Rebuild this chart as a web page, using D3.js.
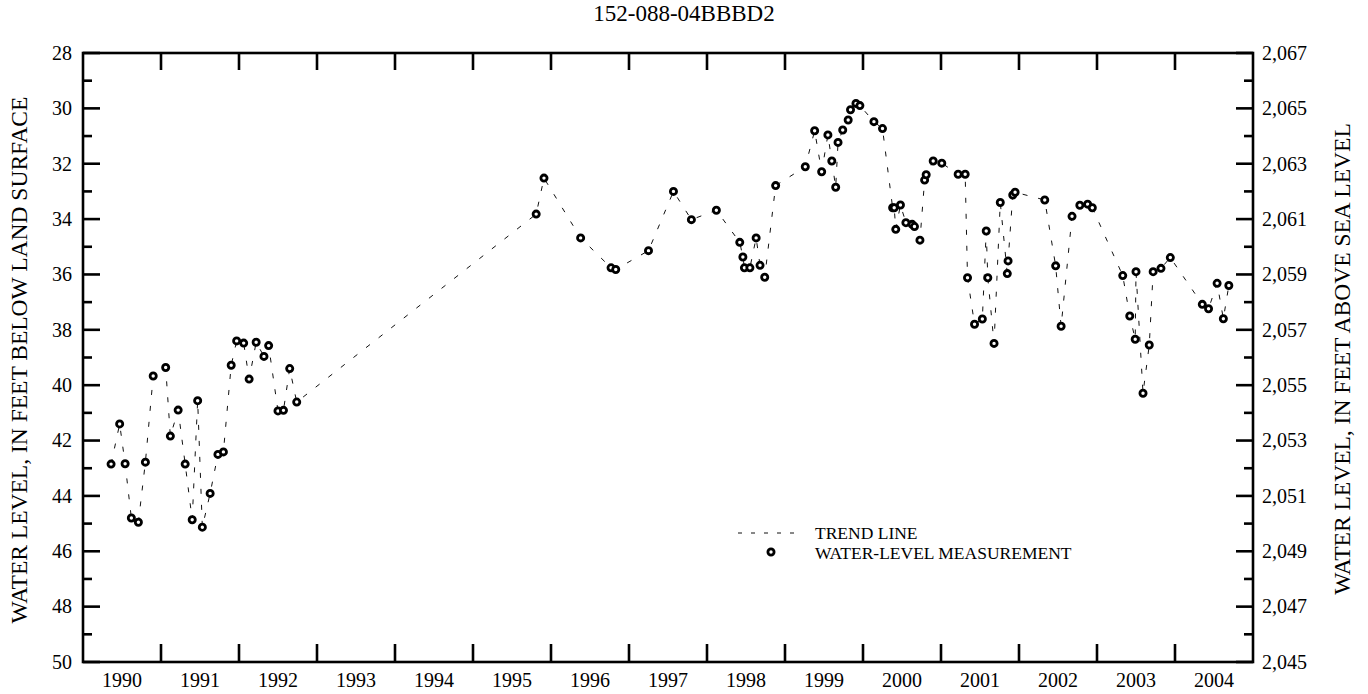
<!DOCTYPE html>
<html><head><meta charset="utf-8">
<script src="https://cdn.jsdelivr.net/npm/d3@7"></script>
<style>
html,body{margin:0;padding:0;background:#fff;}
svg text{font-family:"Liberation Serif","Times New Roman",serif;fill:#000;}
</style>
</head><body>
<svg id="chart" width="1368" height="694"></svg>
<script>
const title = "152-088-04BBBD2";
const leftLabel = "WATER LEVEL, IN FEET BELOW LAND SURFACE";
const rightLabel = "WATER LEVEL, IN FEET ABOVE SEA LEVEL";
const yearLabels = [1990,1991,1992,1993,1994,1995,1996,1997,1998,1999,2000,2001,2002,2003,2004];
const depthTicks = [28,30,32,34,36,38,40,42,44,46,48,50];
const landSurface = 2095;
const legendItems = ["TREND LINE","WATER-LEVEL MEASUREMENT"];

// decimal-year dates of measurements
const measDates = [
 1990.36,1990.47,1990.54,1990.62,1990.71,1990.80,1990.90,1991.06,1991.12,1991.22,
 1991.31,1991.40,1991.47,1991.53,1991.63,1991.73,1991.80,1991.90,1991.97,1992.06,
 1992.13,1992.22,1992.32,1992.38,1992.50,1992.57,1992.65,1992.74,
 1995.81,1995.91,1996.38,1996.77,1996.83,1997.25,1997.57,1997.80,1998.12,
 1998.42,1998.46,1998.48,1998.55,1998.63,1998.68,1998.74,1998.88,
 1999.26,1999.38,1999.47,1999.55,1999.60,1999.65,1999.68,1999.74,1999.81,1999.84,1999.91,1999.96,
 2000.14,2000.25,2000.38,2000.40,2000.42,2000.48,2000.55,2000.63,2000.66,2000.73,2000.79,2000.81,2000.90,
 2001.01,2001.22,2001.31,2001.34,2001.43,2001.53,2001.58,2001.60,2001.68,2001.76,2001.85,2001.86,2001.92,2001.95,
 2002.33,2002.47,2002.54,2002.68,2002.78,2002.88,2002.94,
 2003.33,2003.42,2003.49,2003.50,2003.59,2003.67,2003.72,2003.82,2003.94,
 2004.35,2004.43,2004.54,2004.62,2004.69
];
// water level, feet below land surface
const measDepths = [
 42.85,41.40,42.84,44.80,44.95,42.78,39.67,39.36,41.84,40.90,
 42.85,44.86,40.56,45.13,43.91,42.50,42.41,39.28,38.40,38.48,
 39.78,38.45,38.96,38.57,40.93,40.91,39.40,40.61,
 33.82,32.52,34.68,35.76,35.82,35.14,33.00,34.02,33.68,
 34.84,35.37,35.76,35.76,34.68,35.67,36.10,32.79,
 32.11,30.81,32.29,30.96,31.90,32.85,31.23,30.78,30.42,30.05,29.82,29.90,
 30.48,30.73,33.59,33.59,34.37,33.49,34.13,34.19,34.27,34.76,32.59,32.40,31.90,
 31.98,32.38,32.38,36.12,37.80,37.61,34.43,36.12,38.49,33.40,35.97,35.51,33.13,33.03,
 33.31,35.69,37.87,33.90,33.50,33.46,33.59,
 36.04,37.50,38.34,35.90,40.29,38.55,35.90,35.78,35.39,
 37.08,37.24,36.32,37.60,36.40
];

const data = measDates.map((d,i)=>({t:d, v:measDepths[i]}));

const L=83, R=1253, T=53, B=662;
const svg = d3.select("#chart");
const x = d3.scaleLinear().domain([1990,2005]).range([L,R]);
const y = d3.scaleLinear().domain([28,50]).range([T,B]);
const y2 = d3.scaleLinear().domain([landSurface-28, landSurface-50]).range([T,B]);

const axisW = 2.6;
const minorY = d3.range(29,50,2);
const gL = svg.append("g");
gL.selectAll("line.maj").data(depthTicks).join("line")
  .attr("x1",L).attr("x2",L+17).attr("y1",d=>y(d)).attr("y2",d=>y(d))
  .attr("stroke","#000").attr("stroke-width",axisW);
gL.selectAll("line.min").data(minorY).join("line")
  .attr("x1",L).attr("x2",L+9).attr("y1",d=>y(d)).attr("y2",d=>y(d))
  .attr("stroke","#000").attr("stroke-width",axisW);
gL.selectAll("text").data(depthTicks).join("text")
  .attr("x",L-11).attr("y",d=>y(d)).attr("dy","0.34em")
  .attr("text-anchor","end").attr("font-size",20).text(d=>d);

const rightTicks = d3.range(landSurface-28, landSurface-51, -2);
const rightMinor = d3.range(landSurface-29, landSurface-50, -2);
const gR = svg.append("g");
gR.selectAll("line.maj").data(rightTicks).join("line")
  .attr("x1",R).attr("x2",R-17).attr("y1",d=>y2(d)).attr("y2",d=>y2(d))
  .attr("stroke","#000").attr("stroke-width",axisW);
gR.selectAll("line.min").data(rightMinor).join("line")
  .attr("x1",R).attr("x2",R-9).attr("y1",d=>y2(d)).attr("y2",d=>y2(d))
  .attr("stroke","#000").attr("stroke-width",axisW);
gR.selectAll("text").data(rightTicks).join("text")
  .attr("x",R+9).attr("y",d=>y2(d)).attr("dy","0.34em")
  .attr("text-anchor","start").attr("font-size",20).text(d=>d3.format(",")(d));

const yearBounds = d3.range(1991,2005);
const gX = svg.append("g");
gX.selectAll("line.b").data(yearBounds).join("line")
  .attr("x1",d=>x(d)).attr("x2",d=>x(d)).attr("y1",B).attr("y2",B-18)
  .attr("stroke","#000").attr("stroke-width",axisW);
gX.selectAll("line.t").data(yearBounds).join("line")
  .attr("x1",d=>x(d)).attr("x2",d=>x(d)).attr("y1",T).attr("y2",T+17)
  .attr("stroke","#000").attr("stroke-width",axisW);
gX.selectAll("text").data(yearLabels).join("text")
  .attr("x",d=>x(d+0.5)).attr("y",B+25)
  .attr("text-anchor","middle").attr("font-size",20).text(d=>d);

svg.append("rect").attr("x",L).attr("y",T).attr("width",R-L).attr("height",B-T)
  .attr("fill","none").attr("stroke","#000").attr("stroke-width",axisW);

const line = d3.line().x(d=>x(d.t)).y(d=>y(d.v));
svg.append("path").datum(data).attr("d",line)
  .attr("fill","none").attr("stroke","#111").attr("stroke-width",1)
  .attr("stroke-dasharray","5,11");

svg.append("g").selectAll("circle").data(data).join("circle")
  .attr("cx",d=>x(d.t)).attr("cy",d=>y(d.v)).attr("r",3.1)
  .attr("fill","#fff").attr("stroke","#000").attr("stroke-width",2.8);

svg.append("text").attr("x",684).attr("y",20.6).attr("text-anchor","middle")
  .attr("font-size",23).text(title);

svg.append("text").attr("transform",`translate(27,360) rotate(-90)`)
  .attr("text-anchor","middle").attr("font-size",23.5).text(leftLabel);
svg.append("text").attr("transform",`translate(1350,359) rotate(-90)`)
  .attr("text-anchor","middle").attr("font-size",23.5).text(rightLabel);

const lg = svg.append("g");
lg.append("line").attr("x1",738).attr("x2",802).attr("y1",533).attr("y2",533)
  .attr("stroke","#111").attr("stroke-width",1).attr("stroke-dasharray","4,9");
lg.append("circle").attr("cx",771).attr("cy",552).attr("r",3.1)
  .attr("fill","#fff").attr("stroke","#000").attr("stroke-width",2.8);
lg.selectAll("text").data(legendItems).join("text")
  .attr("x",815).attr("y",(d,i)=>533+i*19.5).attr("dy","0.35em")
  .attr("font-size",17.5).text(d=>d);
</script>
</body></html>
